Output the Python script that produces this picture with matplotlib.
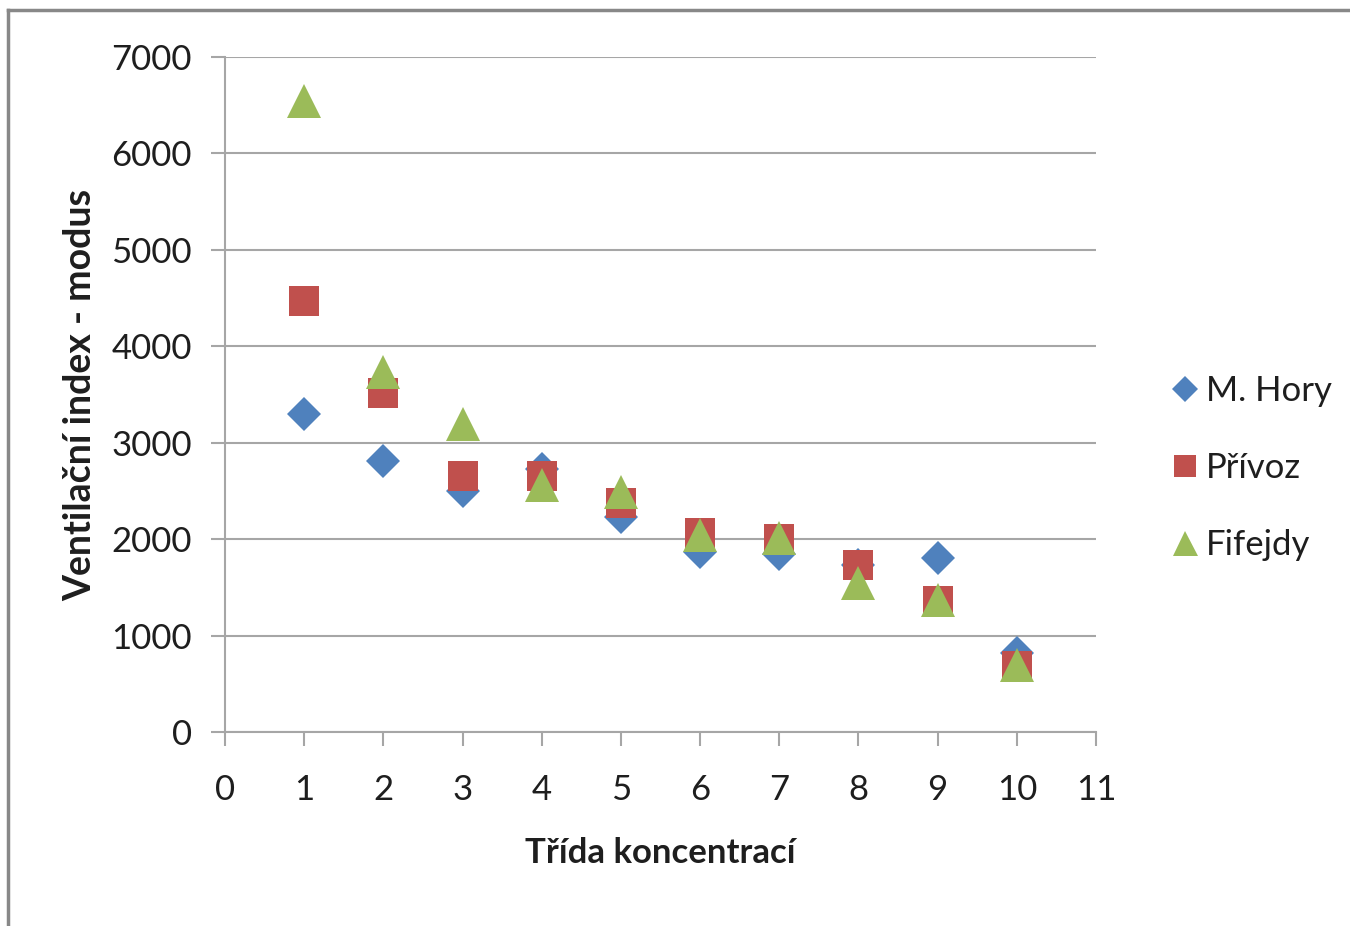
import matplotlib
matplotlib.use("Agg")
import matplotlib.pyplot as plt
from matplotlib.lines import Line2D

plt.rcParams['font.family'] = ['Lato', 'DejaVu Sans']

classes = [1, 2, 3, 4, 5, 6, 7, 8, 9, 10]
m_hory = [3300, 2810, 2500, 2730, 2230, 1870, 1850, 1730, 1800, 820]
privoz = [4470, 3520, 2655, 2655, 2375, 2060, 2000, 1737, 1357, 681]
fifejdy = [6540, 3737, 3194, 2561, 2492, 2046, 2015, 1542, 1369, 695]

series_names = ["M. Hory", "Přívoz", "Fifejdy"]
colors = ["#4F81BD", "#C0504D", "#9BBB59"]
markers = ["D", "s", "^"]
msizes = [17, 22, 24]

x_ticks = list(range(0, 12))
y_ticks = list(range(0, 8000, 1000))

fig = plt.figure(figsize=(13.5, 9.26), dpi=100)
ax = fig.add_axes([225/1350, 1-732/926, (1096-225)/1350, (732-57)/926])

for vals, c, m, ms, name in zip([m_hory, privoz, fifejdy], colors, markers, msizes, series_names):
    ax.plot(classes, vals, linestyle='none', marker=m, markersize=ms,
            color=c, markeredgewidth=0, label=name, zorder=3)

ax.set_xlim(0, 11)
ax.set_ylim(0, 7000)
ax.set_xticks(x_ticks)
ax.set_yticks(y_ticks)
ax.yaxis.grid(True, color='#A6A6A6', linewidth=1.5)
ax.set_axisbelow(True)
for s in ['top', 'right']:
    ax.spines[s].set_visible(False)
for s in ['left', 'bottom']:
    ax.spines[s].set_color('#A6A6A6')
    ax.spines[s].set_linewidth(1.5)
ax.tick_params(axis='both', direction='out', length=10, width=1.5, color='#A6A6A6',
               labelsize=25, labelcolor='#1E1E1E')
ax.tick_params(axis='y', pad=14)
ax.tick_params(axis='x', pad=20)

ax.set_xlabel("Třída koncentrací", fontsize=25, fontweight='bold', color='#1E1E1E')
ax.set_ylabel("Ventilační index - modus", fontsize=27, fontweight='bold', color='#1E1E1E')
ax.xaxis.label.set_va('center')
ax.yaxis.label.set_va('center')
ax.xaxis.set_label_coords((660-225)/871, (732-853)/675)
ax.yaxis.set_label_coords((80-225)/871, (732-395)/675)

leg = fig.legend(loc='center left', bbox_to_anchor=(1175/1350, 1-468/926), frameon=False,
                 fontsize=25, markerscale=0.75, handlelength=0.6, handletextpad=0.28,
                 labelspacing=1.3, borderpad=0, borderaxespad=0)
for t in leg.get_texts():
    t.set_color('#1E1E1E')

# outer chart border (cropped)
fig.add_artist(Line2D([8/1350, 8/1350], [0, 1-10/926], transform=fig.transFigure,
                      color='#888888', linewidth=2.5))
fig.add_artist(Line2D([8/1350, 1], [1-10/926, 1-10/926], transform=fig.transFigure,
                      color='#888888', linewidth=2.5))

fig.savefig("out.png", dpi=100)
